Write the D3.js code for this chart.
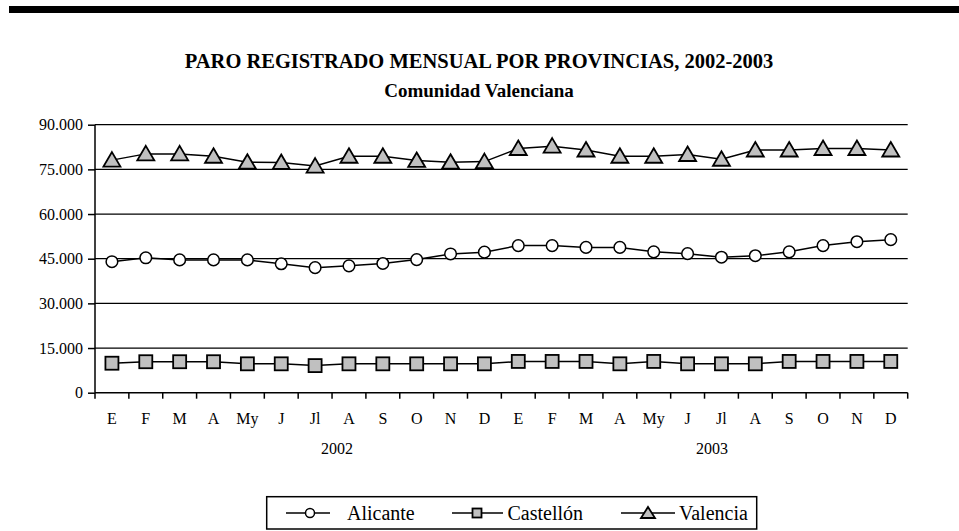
<!DOCTYPE html>
<html><head><meta charset="utf-8">
<script src="https://cdn.jsdelivr.net/npm/d3@7"></script>
<style>
html,body{margin:0;padding:0;background:#fff;}
svg{display:block;}
svg text{font-family:"Liberation Serif","Tinos","Times New Roman","Times","Nimbus Roman","FreeSerif","DejaVu Serif","Noto Serif",serif !important;fill:#000;}
</style></head>
<body>
<svg id="c" width="959" height="531"></svg>
<script>
const months = ["E","F","M","A","My","J","Jl","A","S","O","N","D","E","F","M","A","My","J","Jl","A","S","O","N","D"];
const years = ["2002","2003"];
const yearPos = [7.15, 18.22];
const yTicks = [0,15000,30000,45000,60000,75000,90000];
const alicante = [44000,45300,44600,44600,44600,43300,42000,42600,43400,44700,46600,47200,49400,49400,48800,48800,47300,46700,45500,46000,47300,49400,50700,51400];
const castellon = [9900,10400,10400,10400,9700,9700,9100,9700,9700,9700,9700,9700,10500,10500,10500,9700,10500,9700,9700,9700,10500,10500,10500,10500];
const valencia = [78100,80200,80200,79400,77400,77300,76100,79400,79400,78000,77400,77600,82000,82800,81500,79400,79400,80000,78400,81500,81500,82000,82000,81500];
const seriesNames = ["Alicante","Castellón","Valencia"];

const svg = d3.select("#c");
const L = 95, R = 907.7, T = 124.7, B = 392.7;

// top black bar
svg.append("rect").attr("x",9).attr("y",6).attr("width",950).attr("height",7).attr("fill","#000");

svg.append("text").attr("x",479).attr("y",68).attr("text-anchor","middle")
  .attr("font-size",20.5).attr("font-weight","bold").text("PARO REGISTRADO MENSUAL POR PROVINCIAS, 2002-2003");
svg.append("text").attr("x",479).attr("y",97).attr("text-anchor","middle")
  .attr("font-size",19).attr("font-weight","bold").text("Comunidad Valenciana");

const x = d3.scaleBand().domain(d3.range(months.length)).range([L,R]).padding(0);
const y = d3.scaleLinear().domain([0,90000]).range([B,T]);
const fmt = v => v===0 ? "0" : d3.format(",")(v).replace(/,/g,".");

// gridlines
svg.append("g").selectAll("line").data(yTicks.filter(v=>v>0)).join("line")
  .attr("x1",L).attr("x2",R).attr("y1",d=>y(d)).attr("y2",d=>y(d))
  .attr("stroke","#000").attr("stroke-width",1.3);

// y axis
const yAx = svg.append("g").attr("transform",`translate(${L},0)`)
  .call(d3.axisLeft(y).tickValues(yTicks).tickFormat(fmt).tickSize(7).tickPadding(5));
yAx.select(".domain").attr("stroke-width",1.5).attr("d",`M0,${T}V${B}`);
yAx.selectAll(".tick line").attr("stroke-width",1.5);
yAx.selectAll("text").attr("font-size",16);

// x axis
const xAx = svg.append("g").attr("transform",`translate(0,${B})`);
xAx.append("line").attr("x1",L).attr("x2",R).attr("y1",0).attr("y2",0).attr("stroke","#000").attr("stroke-width",1.5);
xAx.selectAll("line.tk").data(d3.range(months.length+1)).join("line").attr("class","tk")
  .attr("x1",d=>L+d*x.bandwidth()).attr("x2",d=>L+d*x.bandwidth()).attr("y1",0).attr("y2",6)
  .attr("stroke","#000").attr("stroke-width",1.5);
xAx.selectAll("text.m").data(months).join("text").attr("class","m")
  .attr("x",(d,i)=>x(i)+x.bandwidth()/2).attr("y",31).attr("text-anchor","middle")
  .attr("font-size",16).text(d=>d);
xAx.selectAll("text.yr").data(years).join("text").attr("class","yr")
  .attr("x",(d,i)=>L+yearPos[i]*x.bandwidth()).attr("y",61).attr("text-anchor","middle")
  .attr("font-size",16).text(d=>d);

const cx = i => x(i)+x.bandwidth()/2;
const line = d3.line().x((d,i)=>cx(i)).y(d=>y(d));
const triPath = "M0,-8L8.5,6.5L-8.5,6.5Z";
const triSmall = "M0,-6L7,5L-7,5Z";

function drawSeries(data, kind){
  const g = svg.append("g");
  g.append("path").datum(data).attr("d",line).attr("fill","none").attr("stroke","#000").attr("stroke-width",1.5);
  const pts = g.selectAll("g").data(data).join("g").attr("transform",(d,i)=>`translate(${cx(i)},${y(d)})`);
  marker(pts, kind, false);
}
function marker(sel, kind, small){
  if(kind==="circle"){
    sel.append("circle").attr("r",small?4.5:5.8).attr("fill","#fff").attr("stroke","#000").attr("stroke-width",1.5);
  } else if(kind==="square"){
    const s = small?9:13;
    sel.append("rect").attr("x",-s/2).attr("y",-s/2).attr("width",s).attr("height",s)
      .attr("fill","#c0c0c0").attr("stroke","#000").attr("stroke-width",1.8);
  } else {
    sel.append("path").attr("d",small?triSmall:triPath).attr("fill","#c0c0c0").attr("stroke","#000").attr("stroke-width",1.8).attr("stroke-linejoin","miter");
  }
}
drawSeries(valencia,"tri");
drawSeries(alicante,"circle");
drawSeries(castellon,"square");

// legend
const lg = svg.append("g");
lg.append("rect").attr("x",266.7).attr("y",496.7).attr("width",490).attr("height",32.3)
  .attr("fill","#fff").attr("stroke","#000").attr("stroke-width",1.5);
const kinds = ["circle","square","tri"];
const legX = [[286,330,310,347],[452,503,477,507.5],[621,675,648,679]];
const ly = 513;
seriesNames.forEach((n,i)=>{
  const [a,b,m,t] = legX[i];
  lg.append("line").attr("x1",a).attr("x2",b).attr("y1",ly).attr("y2",ly).attr("stroke","#000").attr("stroke-width",1.5);
  const mg = lg.append("g").attr("transform",`translate(${m},${ly})`);
  marker(mg, kinds[i], true);
  lg.append("text").attr("x",t).attr("y",ly+7).attr("font-size",20).text(n);
});
</script>
</body></html>
